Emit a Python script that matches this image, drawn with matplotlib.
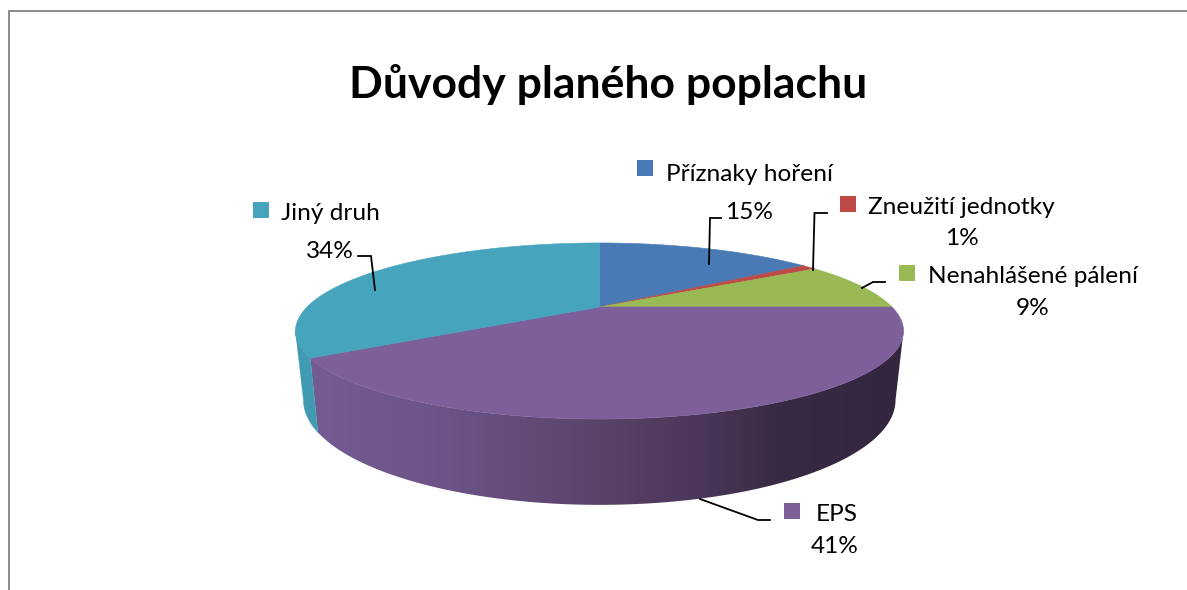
import matplotlib

matplotlib.use("Agg")

import matplotlib.pyplot as plt
import numpy as np
from matplotlib.colors import LinearSegmentedColormap
from matplotlib.patches import Polygon, Rectangle

TITLE = "Důvody planého poplachu"
CATEGORIES = ["Příznaky hoření", "Zneužití jednotky", "Nenahlášené pálení", "EPS", "Jiný druh"]
VALUES = [15.0, 1.0, 9.0, 41.0, 34.0]
PERCENT_LABELS = ["15%", "1%", "9%", "41%", "34%"]
COLORS = ["#4a7ab5", "#be4b48", "#98b954", "#7d5f9a", "#46a4bd"]

WIDTH, HEIGHT = 1187, 590
FONT = "Lato"

# perspective of the pie, everything in pixels
TOP = dict(cx=599.5, cy=307.0, a=292.5, b=81.5)
BOTTOM = dict(cx=599.5, cy=371.5, a=284.8, b=97.0)
TILT = 0.2727
SILHOUETTE = np.arccos(-TILT)


def project(theta, face):
    # theta runs clockwise from the back of the pie
    w = 1 + TILT * np.cos(theta)
    return np.column_stack(
        (
            face["cx"] + face["a"] * np.sin(theta) / w,
            face["cy"] - face["b"] * np.cos(theta) / w,
        )
    )


def wall_polygon(start, end):
    theta = np.linspace(start, end, 120)
    return np.vstack((project(theta, TOP), project(theta[::-1], BOTTOM)))


fig = plt.figure(figsize=(WIDTH / 100, HEIGHT / 100), dpi=100)
ax = fig.add_axes([0, 0, 1, 1])

edges = np.radians(np.cumsum([0] + VALUES) / sum(VALUES) * 360)

# side wall of EPS, dark on the right
wall_cmap = LinearSegmentedColormap.from_list(
    "wall",
    [
        (0.00, "#755c92"),
        (0.25, "#6b5387"),
        (0.50, "#594368"),
        (0.67, "#493658"),
        (0.80, "#382a42"),
        (1.00, "#352640"),
    ],
)
gradient = ax.imshow(
    np.linspace(0, 1, 600).reshape(1, -1),
    extent=(300, 905, 510, 300),
    cmap=wall_cmap,
    aspect="auto",
    zorder=1,
)
eps_wall = Polygon(wall_polygon(SILHOUETTE, edges[4]), closed=True, fc="none", ec="none")
ax.add_patch(eps_wall)
gradient.set_clip_path(eps_wall)

ax.add_patch(
    Polygon(
        wall_polygon(edges[4], 2 * np.pi - SILHOUETTE),
        closed=True,
        fc="#3f9ab2",
        ec="#3f9ab2",
        lw=0.3,
        zorder=1,
    )
)

# top face
center = np.array([[TOP["cx"], TOP["cy"]]])
for start, end, color in zip(edges[:-1], edges[1:], COLORS):
    arc = project(np.linspace(start, end, 200), TOP)
    ax.add_patch(
        Polygon(np.vstack((center, arc)), closed=True, fc=color, ec=color, lw=0.4, zorder=2)
    )

# leader lines
LEADERS = [
    [(709, 264), (710, 218), (721, 218)],
    [(813, 270), (814.5, 213), (827, 213)],
    [(862, 288), (873, 282), (885, 282)],
    [(700, 499), (758, 520), (770, 520)],
    [(375, 290), (371, 256), (358, 256)],
]
for points in LEADERS:
    xs, ys = zip(*points)
    ax.plot(xs, ys, color="black", lw=1.3, solid_joinstyle="miter", zorder=3)

LABEL_NAME_POS = [(666, 181), (868, 214), (928, 283), (816, 521), (281, 220)]
LABEL_PCT_POS = [(749, 219), (962, 245), (1033, 315), (835, 553), (330, 258)]
MARKER_POS = [(637, 160), (840, 196), (899, 265), (784, 503), (253, 202)]

for i, name in enumerate(CATEGORIES):
    ax.text(*LABEL_NAME_POS[i], name, family=FONT, fontsize=17.6, color="black", ha="left", va="baseline")
    ax.text(*LABEL_PCT_POS[i], PERCENT_LABELS[i], family=FONT, fontsize=17.6, color="black", ha="center", va="baseline")
    ax.add_patch(Rectangle(MARKER_POS[i], 15.5, 15.5, fc=COLORS[i], ec="none", zorder=3))

ax.text(608, 98, TITLE, family=FONT, fontsize=32, fontweight="bold", color="black", ha="center", va="baseline")

# chart frame, cut off by the screenshot on the right and at the bottom
ax.plot([8.5, 8.5, WIDTH], [HEIGHT, 11, 11], color="#8c8c8c", lw=1.4, solid_joinstyle="miter", zorder=3)

ax.set_xlim(0, WIDTH)
ax.set_ylim(HEIGHT, 0)
ax.axis("off")

fig.savefig("out.png", dpi=100)
plt.close(fig)
